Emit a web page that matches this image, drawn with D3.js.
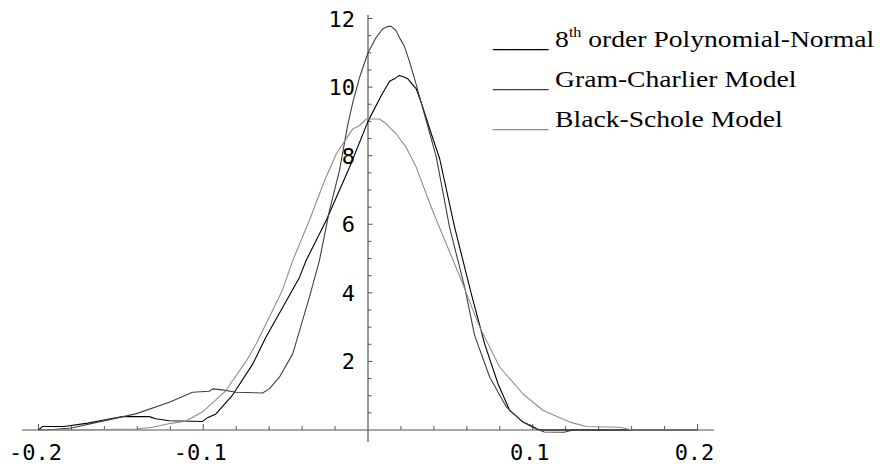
<!DOCTYPE html>
<html>
<head>
<meta charset="utf-8">
<script src="https://cdn.jsdelivr.net/npm/d3@7"></script>
<style>
  html, body { margin: 0; padding: 0; background: #fff; }
  svg { display: block; }
  .tick-label { font-family: "DejaVu Sans Mono", monospace; font-size: 22px; fill: #000; }
  .legend { font-family: "Liberation Serif", "Times New Roman", serif; font-size: 24px; fill: #000; }
</style>
</head>
<body>
<svg id="chart" width="885" height="466"></svg>
<script>
// Density curves: [return, density]
const polyNormal = [
  [-0.2, 0], [-0.1977, 0.10], [-0.1845, 0.10], [-0.17, 0.2], [-0.157, 0.32], [-0.149, 0.39],
  [-0.1328, 0.39], [-0.1287, 0.33], [-0.1207, 0.27], [-0.1004, 0.25], [-0.0974, 0.36],
  [-0.0923, 0.47], [-0.0822, 1.02], [-0.07, 1.92], [-0.0619, 2.71], [-0.0416, 4.45],
  [-0.0376, 4.94], [-0.0254, 6.11], [-0.0112, 7.66], [0, 9.0], [0.008, 9.75], [0.0131, 10.17],
  [0.0161, 10.24], [0.019, 10.34], [0.0215, 10.3], [0.0242, 10.24], [0.0293, 9.95],
  [0.0333, 9.41], [0.0384, 8.64], [0.0435, 7.91], [0.0526, 5.91], [0.0627, 3.97],
  [0.0708, 2.51], [0.0789, 1.35], [0.086, 0.57], [0.0941, 0.23], [0.1002, 0.08], [0.104, 0],
  [0.2, 0]
];

const gramCharlier = [
  [-0.2, 0], [-0.19, 0.02], [-0.18, 0.06], [-0.159, 0.28], [-0.141, 0.47], [-0.1206, 0.81],
  [-0.1065, 1.10], [-0.0964, 1.13], [-0.0943, 1.20], [-0.0883, 1.17], [-0.08, 1.10],
  [-0.064, 1.08], [-0.0599, 1.20], [-0.0538, 1.54], [-0.0457, 2.22], [-0.0356, 3.87],
  [-0.0295, 4.94], [-0.0234, 6.40], [-0.0173, 7.57], [-0.0123, 8.9], [-0.009, 9.6],
  [-0.005, 10.3], [0, 11.0], [0.005, 11.45], [0.009, 11.7], [0.012, 11.77], [0.014, 11.77],
  [0.017, 11.65], [0.019, 11.45], [0.022, 11.2], [0.025, 10.77], [0.028, 10.29], [0.032, 9.6],
  [0.037, 8.73], [0.0415, 7.95], [0.0495, 5.91], [0.0587, 4.16], [0.0647, 2.76],
  [0.0739, 1.54], [0.084, 0.67], [0.094, 0.23], [0.099, 0.13], [0.104, 0], [0.107, -0.06],
  [0.119, -0.065], [0.1245, 0], [0.2, 0]
];

const blackScholes = [
  [-0.2, 0], [-0.179, 0], [-0.141, 0.03], [-0.131, 0.08], [-0.121, 0.18], [-0.1105, 0.26],
  [-0.1004, 0.53], [-0.0862, 1.15], [-0.082, 1.45], [-0.074, 2.0], [-0.068, 2.5],
  [-0.052, 4.07], [-0.0457, 4.94], [-0.0356, 6.11], [-0.0264, 7.27], [-0.0193, 8.05],
  [-0.0133, 8.49], [-0.0092, 8.78], [-0.0052, 8.88], [-0.001, 9.07], [0.007, 9.07],
  [0.011, 8.93], [0.017, 8.64], [0.0232, 8.24], [0.0293, 7.66], [0.0394, 6.37],
  [0.0567, 4.36], [0.0678, 3.0], [0.08, 1.83], [0.0941, 1.05], [0.1063, 0.57],
  [0.1225, 0.23], [0.1326, 0.10], [0.1529, 0.08], [0.16, 0], [0.2, 0]
];

const xMajorTicks = [-0.2, -0.1, 0.1, 0.2];
const xMajorLabels = ['-0.2', '-0.1', '0.1', '0.2'];
const xMinorTicks = [-0.18, -0.16, -0.14, -0.12, -0.08, -0.06, -0.04, -0.02,
                     0.02, 0.04, 0.06, 0.08, 0.12, 0.14, 0.16, 0.18];
const yMajorTicks = [2, 4, 6, 8, 10, 12];
const yMajorLabels = ['2', '4', '6', '8', '10', '12'];
const yMinorTicks = [0.5, 1, 1.5, 2.5, 3, 3.5, 4.5, 5, 5.5, 6.5, 7, 7.5, 8.5, 9, 9.5, 10.5, 11, 11.5];

const seriesNames = ['8th order Polynomial-Normal', 'Gram-Charlier Model', 'Black-Schole Model'];
const seriesColors = ['#000000', '#404040', '#8e8e8e'];

const svg = d3.select('#chart');

const x = d3.scaleLinear().domain([-0.2, 0.2]).range([38.5, 697.5]);
const y = d3.scaleLinear().domain([0, 12]).range([430, 18.5]);

// ── Axes (Mathematica style: ticks point inward) ───────────────────────────────
const axisColor = '#555';
const g = svg.append('g');

g.append('line')
  .attr('x1', x(-0.21)).attr('x2', x(0.21))
  .attr('y1', y(0)).attr('y2', y(0))
  .attr('stroke', axisColor).attr('stroke-width', 1.2);
g.append('line')
  .attr('x1', x(0)).attr('x2', x(0))
  .attr('y1', y(12.1)).attr('y2', y(-0.35))
  .attr('stroke', axisColor).attr('stroke-width', 1.2);

g.selectAll('line.xmaj').data(xMajorTicks).enter().append('line')
  .attr('x1', d => x(d)).attr('x2', d => x(d))
  .attr('y1', y(0)).attr('y2', y(0) - 6)
  .attr('stroke', axisColor).attr('stroke-width', 1);
g.selectAll('line.xmin').data(xMinorTicks).enter().append('line')
  .attr('x1', d => x(d)).attr('x2', d => x(d))
  .attr('y1', y(0)).attr('y2', y(0) - 4)
  .attr('stroke', axisColor).attr('stroke-width', 1);
g.selectAll('line.ymaj').data(yMajorTicks).enter().append('line')
  .attr('x1', x(0)).attr('x2', x(0) + 4.5)
  .attr('y1', d => y(d)).attr('y2', d => y(d))
  .attr('stroke', axisColor).attr('stroke-width', 1);
g.selectAll('line.ymin').data(yMinorTicks).enter().append('line')
  .attr('x1', x(0)).attr('x2', x(0) + 3.5)
  .attr('y1', d => y(d)).attr('y2', d => y(d))
  .attr('stroke', axisColor).attr('stroke-width', 1);

g.selectAll('text.xl').data(xMajorTicks).enter().append('text')
  .attr('class', 'tick-label')
  .attr('x', d => x(d) - 3).attr('y', 460)
  .attr('text-anchor', 'middle')
  .text((d, i) => xMajorLabels[i]);
g.selectAll('text.yl').data(yMajorTicks).enter().append('text')
  .attr('class', 'tick-label')
  .attr('x', x(0) - 13).attr('y', d => y(d) + 8)
  .attr('text-anchor', 'end')
  .text((d, i) => yMajorLabels[i]);

// ── Curves ────────────────────────────────────────────────────────────────────
const line = d3.line().x(d => x(d[0])).y(d => y(d[1]));
[polyNormal, gramCharlier, blackScholes].forEach((data, i) => {
  g.append('path')
    .datum(data)
    .attr('d', line)
    .attr('fill', 'none')
    .attr('stroke', seriesColors[i])
    .attr('stroke-width', 1.1)
    .attr('stroke-linejoin', 'round');
});

// ── Legend (source font runs a little wider than Times) ──────────────────────
const legendY = [47, 87, 127];
const leg = g.append('g').attr('transform', 'translate(493,0) scale(1.15,1)');
seriesNames.forEach((name, i) => {
  const t = leg.append('text').attr('class', 'legend')
    .attr('x', 0).attr('y', legendY[i]);
  t.append('tspan').attr('fill', seriesColors[i]).text('____');
  if (i === 0) {
    t.append('tspan').text(' 8');
    t.append('tspan').attr('font-size', 14).attr('dy', -10).text('th');
    t.append('tspan').attr('dy', 10).text(' order Polynomial-Normal');
  } else {
    t.append('tspan').text(' ' + name);
  }
});
</script>
</body>
</html>
